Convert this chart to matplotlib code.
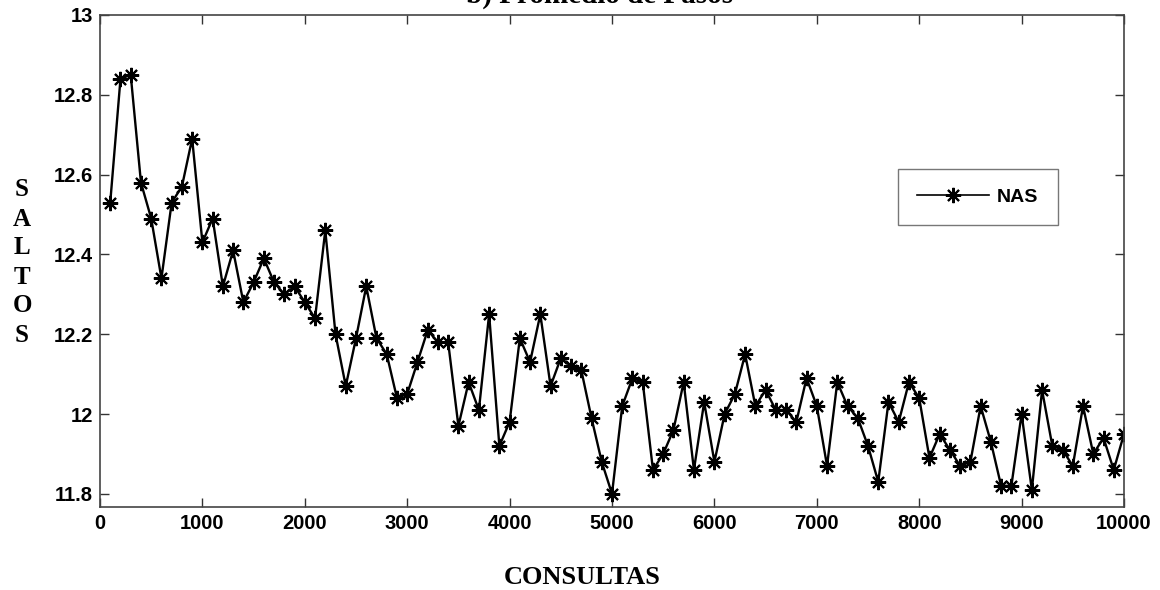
import matplotlib
matplotlib.use("Agg")
import matplotlib.pyplot as plt
from matplotlib.ticker import FuncFormatter

# Average hop count vs. number of queries
consultas = list(range(100, 10001, 100))
saltos = [
    12.53, 12.84, 12.85, 12.58, 12.49, 12.34, 12.53, 12.57, 12.69, 12.43,
    12.49, 12.32, 12.41, 12.28, 12.33, 12.39, 12.33, 12.30, 12.32, 12.28,
    12.24, 12.46, 12.20, 12.07, 12.19, 12.32, 12.19, 12.15, 12.04, 12.05,
    12.13, 12.21, 12.18, 12.18, 11.97, 12.08, 12.01, 12.25, 11.92, 11.98,
    12.19, 12.13, 12.25, 12.07, 12.14, 12.12, 12.11, 11.99, 11.88, 11.80,
    12.02, 12.09, 12.08, 11.86, 11.90, 11.96, 12.08, 11.86, 12.03, 11.88,
    12.00, 12.05, 12.15, 12.02, 12.06, 12.01, 12.01, 11.98, 12.09, 12.02,
    11.87, 12.08, 12.02, 11.99, 11.92, 11.83, 12.03, 11.98, 12.08, 12.04,
    11.89, 11.95, 11.91, 11.87, 11.88, 12.02, 11.93, 11.82, 11.82, 12.00,
    11.81, 12.06, 11.92, 11.91, 11.87, 12.02, 11.90, 11.94, 11.86, 11.95,
]
series_label = "NAS"
x_ticks = list(range(0, 10001, 1000))
y_ticks = [11.8, 12.0, 12.2, 12.4, 12.6, 12.8, 13.0]

# asterisk marker: 8 spokes
asterisk = (8, 2, 0)

W, H = 1160, 590
fig = plt.figure(figsize=(W / 100, H / 100), dpi=100)
ax = fig.add_axes([100 / W, 1 - 507 / H, 1024 / W, 492 / H])

ax.plot(consultas, saltos, color="black", linewidth=1.7, marker=asterisk,
        markersize=11, markeredgewidth=1.5, label=series_label)

ax.set_xlim(0, 10000)
ax.set_ylim(11.767, 13.0)
ax.set_xticks(x_ticks)
ax.set_yticks(y_ticks)
ax.yaxis.set_major_formatter(FuncFormatter(lambda v, p: f"{v:g}"))

for lbl in ax.get_xticklabels() + ax.get_yticklabels():
    lbl.set_fontfamily("Liberation Sans")
    lbl.set_fontweight("bold")
    lbl.set_fontsize(14.5)

ax.tick_params(direction="in", length=6.5, width=1.0, color="#333333",
               top=True, right=True, pad=5)
for sp in ax.spines.values():
    sp.set_color("#444444")
    sp.set_linewidth(1.2)

# Title (sits partly above the canvas)
fig.text(600 / W, 1 - 3 / H, "b) Promedio de Pasos", ha="center", va="baseline",
         fontfamily="Liberation Serif", fontweight="bold", fontsize=21)

# Vertical stacked y label
for i, ch in enumerate("SALTOS"):
    fig.text(22 / W, 1 - (190 + i * 29) / H, ch, ha="center", va="center",
             fontfamily="Liberation Serif", fontweight="bold", fontsize=18)

fig.text(582 / W, 1 - 577 / H, "CONSULTAS", ha="center", va="center",
         fontfamily="Liberation Serif", fontweight="bold", fontsize=19)

leg = ax.legend(loc="center", bbox_to_anchor=(978 / W, 1 - 197 / H),
                bbox_transform=fig.transFigure, frameon=True, fancybox=False,
                prop={"family": "Liberation Sans", "weight": "bold", "size": 14},
                handlelength=3.7, handletextpad=0.4, borderpad=1.0,
                borderaxespad=0)
leg.get_frame().set_edgecolor("#555555")
leg.get_frame().set_linewidth(1.0)
for h in leg.legend_handles:
    h.set_markersize(11)
    h.set_linewidth(1.2)

fig.savefig("out.png", dpi=100, facecolor="white")
